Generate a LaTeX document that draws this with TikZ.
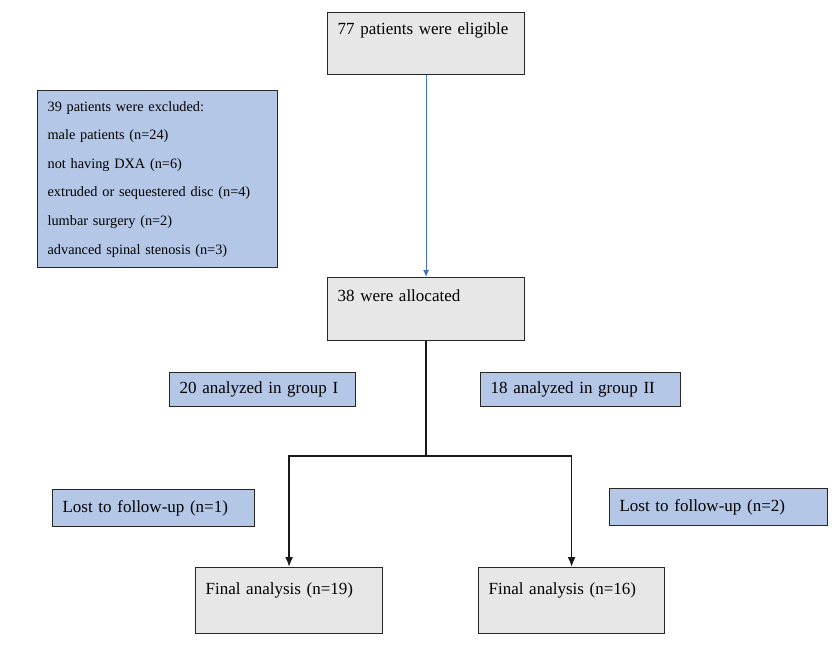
\documentclass[tikz,border=0pt]{standalone}
\usepackage{fontspec}
\setmainfont[WordSpace=0.85]{Liberation Serif}
\usetikzlibrary{arrows.meta,calc}
\definecolor{boxblue}{HTML}{B4C7E7}
\definecolor{boxgray}{HTML}{E7E7E7}
\definecolor{linkblue}{HTML}{4472C4}
\tikzstyle{flowbox}=[draw=black!85,
                     line width=1.2pt,
                     anchor=north west,
                     align=left,
                     inner xsep=10pt,
                     inner ysep=0pt,
                     font=\fontsize{17}{20}\selectfont]
\tikzstyle{graybox}=[flowbox,fill=boxgray]
\tikzstyle{bluebox}=[flowbox,fill=boxblue]
\tikzstyle{link}=[line width=1.6pt,black!90]

\begin{document}
\begin{tikzpicture}[x=1pt,y=-1pt,>={Latex[length=10pt,width=8pt]}]
    \useasboundingbox (0,0) rectangle (834,655);
    \node[graybox, text width=177pt, text height=22pt, text depth=40pt] (eligible) at (327,12) {77 patients were eligible};
    \node[bluebox, text width=220pt, minimum height=177pt, font=\fontsize{14.3}{28.6}\selectfont] (excluded) at (37,90) {39 patients were excluded:\\ male patients (n=24)\\ not having DXA (n=6)\\ extruded or sequestered disc (n=4)\\ lumbar surgery (n=2)\\ advanced spinal stenosis (n=3)};
    \node[graybox, text width=177pt, text height=24pt, text depth=39pt] (allocated) at (327,277) {38 were allocated};
    \node[bluebox, text width=166pt, minimum height=34pt] (groupI) at (169,372) {20 analyzed in group I};
    \node[bluebox, text width=180pt, minimum height=34pt] (groupII) at (480,372) {18 analyzed in group II};
    \node[bluebox, text width=182pt, minimum height=37pt] (lostI) at (52,489) {Lost to follow-up (n=1)};
    \node[bluebox, text width=198pt, minimum height=37pt] (lostII) at (609,488) {Lost to follow-up (n=2)};
    \node[graybox, text width=167pt, text height=27pt, text depth=39pt] (finalI) at (195,567) {Final analysis (n=19)};
    \node[graybox, text width=166pt, text height=27pt, text depth=39pt] (finalII) at (478,567) {Final analysis (n=16)};
    \coordinate (split) at ($(allocated.south)+(0,115)$);
    \draw[-{Latex[length=7pt,width=6pt]}, linkblue, line width=1pt] (eligible.south) -- (allocated.north);
    \draw[link] (allocated.south) -- (split);
    \draw[->, link] (split) -| (finalI.north);
    \draw[->, link] (split) -| (finalII.north);
\end{tikzpicture}
\end{document}
